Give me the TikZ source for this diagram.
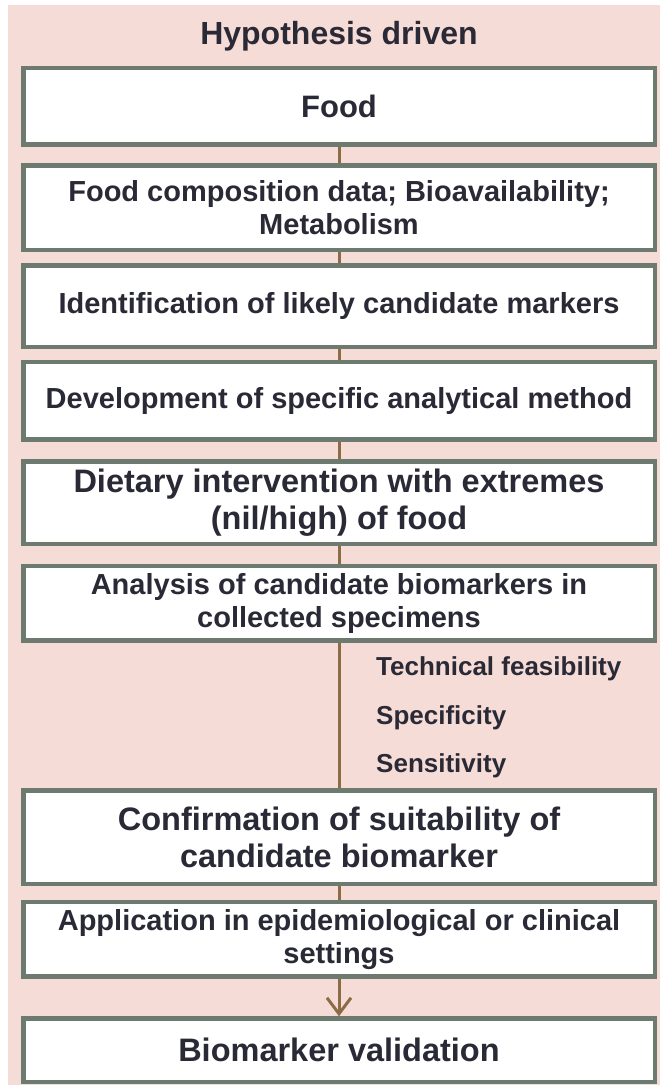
\documentclass[tikz,border=0pt]{standalone}
\usepackage{fontspec}
\setmainfont{Liberation Sans}
\usetikzlibrary{arrows.meta,positioning}
\definecolor{bgpink}{HTML}{F6DCD7}
\definecolor{boxline}{HTML}{6D7A70}
\definecolor{linkbrown}{HTML}{8C6C46}
\definecolor{ink}{HTML}{2A2A37}
\tikzset{
stage/.style={draw=boxline,line width=4.5pt,fill=white,align=center,minimum width=631.5pt,
  inner sep=2pt,text=ink,font=\bfseries\fontsize{29}{33}\selectfont},
stagebig/.style={stage,font=\bfseries\fontsize{32.5}{37}\selectfont},
link/.style={draw=linkbrown,line width=3pt},
arr/.style={link,-{Straight Barb[length=16pt,width=24pt]}},
crit/.style={text=ink,inner sep=0pt,font=\bfseries\fontsize{26}{30}\selectfont,
  text height=19pt,text depth=5.5pt,anchor=north west},
heading/.style={text=ink,inner sep=0pt,font=\bfseries\fontsize{32}{36}\selectfont}
}
\begin{document}
\begin{tikzpicture}[x=1pt,y=1pt,node distance=16.5pt]
\fill[bgpink] (8,-5) rectangle (660,-1085);
\useasboundingbox (0,0) rectangle (660,-1085);
% stages
\node[stage,minimum height=76.5pt,font=\bfseries\fontsize{31}{35}\selectfont] (food) at (339,-106.25) {Food};
\node[heading,above=14pt of food] (title) {Hypothesis driven};
\node[stage,below=16.5pt of food,minimum height=84.5pt] (compo) {Food composition data; Bioavailability;\\Metabolism};
\node[stage,below=11pt of compo,minimum height=81.5pt] (ident) {Identification of likely candidate markers};
\node[stage,below=10.5pt of ident,minimum height=77.5pt] (method) {Development of specific analytical method};
\node[stagebig,below=17.5pt of method,minimum height=82.5pt] (diet) {Dietary intervention with extremes\\(nil/high) of food};
\node[stage,below=17.5pt of diet,minimum height=74.5pt] (analysis) {Analysis of candidate biomarkers in\\collected specimens};
\node[stagebig,below=145.5pt of analysis,minimum height=93.5pt] (confirm) {Confirmation of suitability of\\candidate biomarker};
\node[stage,below=13.5pt of confirm,minimum height=74.5pt] (apply) {Application in epidemiological or clinical\\settings};
\node[stagebig,below=37.5pt of apply,minimum height=63.5pt] (valid) {Biomarker validation};
% criteria
\node[crit,below right=14pt and 37pt of analysis.south] (tech) {Technical feasibility};
\node[crit,below=23.5pt of tech.south west,anchor=north west] (spec) {Specificity};
\node[crit,below=23.5pt of spec.south west,anchor=north west] (sens) {Sensitivity};
% links
\draw[link] (food) -- (compo);
\draw[link] (compo) -- (ident);
\draw[link] (ident) -- (method);
\draw[link] (method) -- (diet);
\draw[link] (diet) -- (analysis);
\draw[link] (analysis) -- (confirm);
\draw[link] (confirm) -- (apply);
\draw[arr] (apply) -- (valid);
\end{tikzpicture}
\end{document}
